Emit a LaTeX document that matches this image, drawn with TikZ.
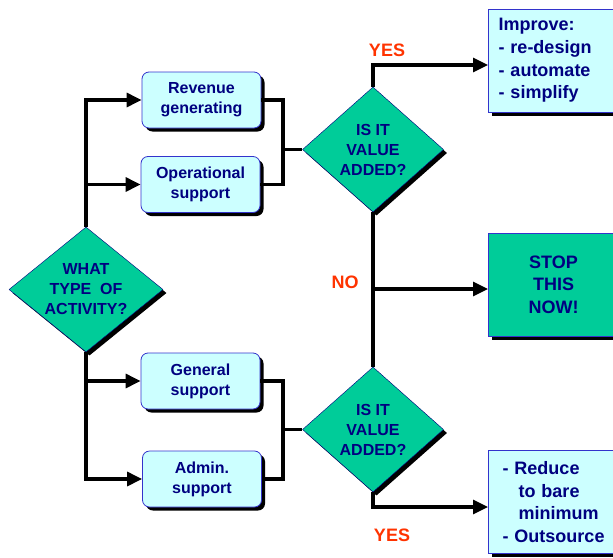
\documentclass[tikz,border=0pt]{standalone}
\usepackage{fontspec}
\setmainfont{Liberation Sans}
\usetikzlibrary{arrows.meta,shapes,shadows}
\definecolor{actgreen}{HTML}{00CC99}
\definecolor{boxcyan}{HTML}{CCFFFF}
\definecolor{inkblue}{HTML}{000080}
\definecolor{edgeblue}{HTML}{3333CC}
\definecolor{answerred}{HTML}{FF3300}

\begin{document}
\begin{tikzpicture}[x=1pt, y=-1pt, >={Triangle[length=15pt,width=14pt]},
  every node/.style={font=\bfseries\fontsize{16}{20}\selectfont, text=inkblue},
  blackshadow/.style={drop shadow={shadow xshift=3.5pt, shadow yshift=-3.5pt, fill=black, opacity=1}},
  decision/.style={diamond, draw=inkblue, fill=actgreen, inner sep=0pt, align=center, blackshadow},
  kind/.style={rectangle, rounded corners=7pt, draw=edgeblue, line width=0.8pt, fill=boxcyan, minimum width=119pt, minimum height=56pt, align=center, blackshadow},
  outcome/.style={rectangle, draw=edgeblue, line width=1pt, minimum height=103pt, font=\bfseries\fontsize{18}{22.6}\selectfont, blackshadow},
  flow/.style={line width=3.2pt},
  answer/.style={text=answerred, font=\bfseries\fontsize{18}{22}\selectfont}]
  \useasboundingbox (0,0) rectangle (613,557);
  \clip (0,0) rectangle (613,557);

  \node[decision, minimum width=154pt, minimum height=125pt, shape aspect=1.23] (act) at (86,289.5) {WHAT\\TYPE\ \ OF\\ACTIVITY?};

  \node[kind] (rev) at (201.5,100) {Revenue\\generating};
  \node[kind] (ops) at (200.5,184.5) {Operational\\support};
  \node[kind] (gen) at (200.5,381) {General\\support};
  \node[kind] (adm) at (202,479) {Admin.\\support};

  \node[decision, minimum width=141pt, minimum height=125pt, shape aspect=1.13] (va1) at (373,149.5) {IS IT\\VALUE\\ADDED?};
  \node[decision, minimum width=141pt, minimum height=125pt, shape aspect=1.13] (va2) at (373,429.5) {IS IT\\VALUE\\ADDED?};

  \node[outcome, fill=boxcyan, anchor=west, text width=115pt, inner xsep=10pt, align=left] (imp) at (488,60.5) {Improve:\\- re-design\\- automate\\- simplify};
  \node[outcome, fill=actgreen, anchor=west, minimum width=130pt, align=center] (stop) at (488,284.5) {STOP\\THIS\\NOW!};
  \node[outcome, fill=boxcyan, anchor=west, text width=111pt, inner xsep=14pt, align=left] (red) at (488,502) {- Reduce\\\hspace*{16pt}to bare\\\hspace*{16pt}minimum\\- Outsource};

  \node[answer] (yes1) at (387,50) {YES};
  \node[answer] (no) at (345,282) {NO};
  \node[answer] (yes2) at (392,535) {YES};

  \coordinate (j1) at (283,149.5);
  \coordinate (j2) at (283,429.5);

  \draw[flow,->] (act.north) |- (rev.west);
  \draw[flow,->] (act.north) |- (ops.west);
  \draw[flow,->] (act.south) |- (gen.west);
  \draw[flow,->] (act.south) |- (adm.west);

  \draw[flow] (rev.east) -| (j1) |- (ops.east);
  \draw[flow] (j1) -- (va1.west);
  \draw[flow] (gen.east) -| (j2) |- (adm.east);
  \draw[flow] (j2) -- (va2.west);

  \draw[flow,->] (va1.north) |- ([yshift=-4.5pt]imp.west);
  \draw[flow] (va1.south) -- (va2.north);
  \coordinate (nohit) at ([yshift=-4.5pt]stop.west);
  \draw[flow,->] (va1.south |- nohit) -- (nohit);
  \draw[flow,->] (va2.south) |- ([yshift=-5pt]red.west);
\end{tikzpicture}
\end{document}
